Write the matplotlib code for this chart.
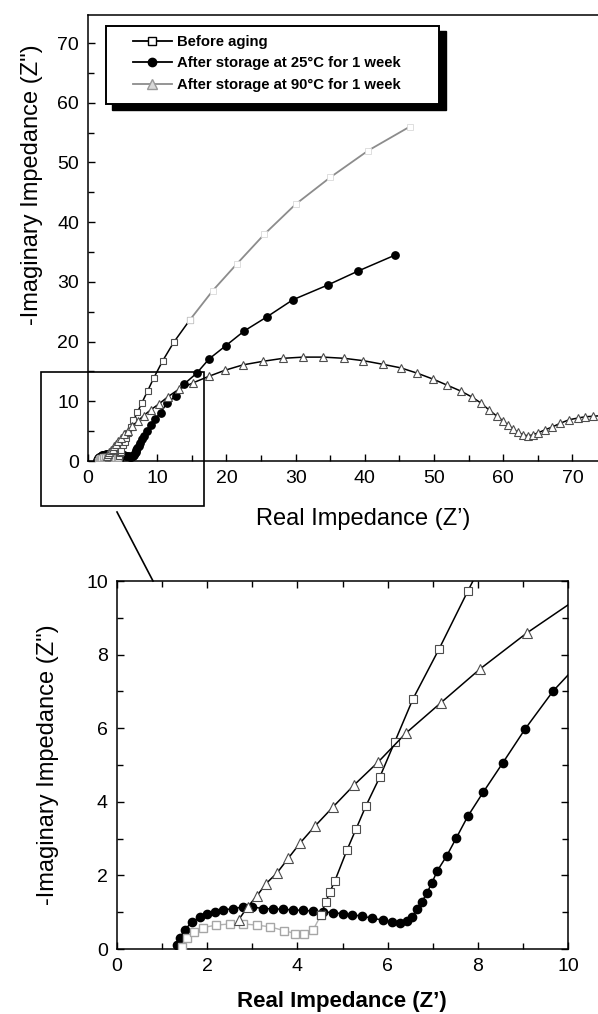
import matplotlib.pyplot as plt
from matplotlib.patches import Rectangle
from matplotlib.lines import Line2D
from matplotlib.ticker import MultipleLocator

plt.rcParams['font.family'] = ['Liberation Sans', 'DejaVu Sans']

# --- data (Z' , -Z'') ---
# before aging (squares)
sq_x = [1.45, 1.55, 1.7, 1.9, 2.2, 2.5, 2.8, 3.1, 3.4, 3.7, 3.95, 4.15, 4.35, 4.52,
        4.63, 4.72, 4.83, 5.10, 5.30, 5.52, 5.83, 6.16, 6.56, 7.14, 7.78, 8.6, 9.5,
        10.8, 12.4, 14.7, 18.0, 21.5, 25.5, 30.0, 35.0, 40.5, 46.5]
sq_y = [0.05, 0.3, 0.45, 0.58, 0.65, 0.68, 0.68, 0.65, 0.6, 0.5, 0.42, 0.4, 0.52, 0.92,
        1.28, 1.55, 1.85, 2.69, 3.26, 3.89, 4.68, 5.63, 6.79, 8.15, 9.73, 11.7, 13.9,
        16.8, 19.9, 23.6, 28.5, 33.0, 38.0, 43.0, 47.5, 52.0, 56.0]

# after 25 C, 1 week (filled circles)
ci_x = [1.33, 1.4, 1.5, 1.66, 1.84, 2.0, 2.17, 2.35, 2.58, 2.8, 3.0, 3.24, 3.46, 3.68,
        3.9, 4.12, 4.34, 4.56, 4.78, 5.0, 5.22, 5.44, 5.66, 5.9, 6.1, 6.27, 6.42, 6.54,
        6.65, 6.76, 6.87, 6.98, 7.1, 7.31, 7.52, 7.78, 8.12, 8.55, 9.05, 9.67, 10.5,
        11.4, 12.7, 13.9, 15.7, 17.5, 19.9, 22.6, 25.8, 29.6, 34.7, 39.0, 44.4]
ci_y = [0.1, 0.3, 0.52, 0.73, 0.87, 0.95, 1.0, 1.06, 1.1, 1.14, 1.14, 1.1, 1.09, 1.08,
        1.06, 1.05, 1.03, 1.01, 0.99, 0.96, 0.93, 0.89, 0.84, 0.78, 0.73, 0.71, 0.76, 0.87,
        1.08, 1.28, 1.52, 1.79, 2.12, 2.53, 3.01, 3.61, 4.26, 5.05, 5.98, 7.01, 8.1,
        9.7, 10.9, 12.9, 14.7, 17.1, 19.3, 21.8, 24.1, 27.0, 29.5, 31.8, 34.5]

# after 90 C, 1 week (open triangles)
tr_x = [2.7, 2.9, 3.1, 3.3, 3.55, 3.8, 4.06, 4.39, 4.79, 5.26, 5.79, 6.41, 7.18, 8.05,
        9.09, 10.3, 11.6, 13.1, 15.2, 17.5, 19.8, 22.4, 25.3, 28.2, 31.1, 34.0, 37.0,
        39.8, 42.6, 45.2, 47.6, 49.9, 51.9, 53.9, 55.5, 56.8, 58.0, 59.1, 60.0, 60.7,
        61.4, 62.1, 62.9, 63.6, 64.3, 65.0, 66.0, 67.1, 68.2, 69.5, 70.8, 71.8, 73.0,
        74.3, 75.6]
tr_y = [0.8, 1.15, 1.44, 1.77, 2.07, 2.47, 2.88, 3.34, 3.86, 4.46, 5.08, 5.87, 6.69, 7.61,
        8.59, 9.6, 10.8, 12.0, 13.1, 14.2, 15.2, 16.1, 16.7, 17.2, 17.4, 17.4, 17.2,
        16.8, 16.2, 15.6, 14.7, 13.7, 12.7, 11.7, 10.7, 9.7, 8.5, 7.5, 6.7, 6.0,
        5.4, 4.8, 4.4, 4.2, 4.4, 4.7, 5.2, 5.7, 6.3, 6.9, 7.2, 7.4, 7.5,
        7.6, 7.7]

labels = ['Before aging', 'After storage at 25°C for 1 week', 'After storage at 90°C for 1 week']
top_xticks = [0, 10, 20, 30, 40, 50, 60, 70]

W, H = 598, 1014
fig = plt.figure(figsize=(W / 100, H / 100), dpi=100)


def fx(px):
    return px / W


def fy(py):
    return 1 - py / H


gray_end = 14     # faint first arc of the "before aging" curve
fade_start = 29   # washed-out upper part in the scan


def draw(ax, s):
    ax.plot(ci_x, ci_y, '-', color='k', lw=1.1, marker='o', ms=4.6 * s,
            mfc='k', mec='k', zorder=2)
    ax.plot(sq_x[:gray_end], sq_y[:gray_end], '-', color='0.7', lw=1.0, marker='s',
            ms=4 * s, mfc='white', mec='0.65', zorder=3)
    ax.plot(sq_x[gray_end - 1:fade_start + 1], sq_y[gray_end - 1:fade_start + 1], '-',
            color='k', lw=1.1, marker='s', ms=4 * s, mfc='white', mec='0.3', mew=0.8, zorder=3)
    ax.plot(sq_x[fade_start:], sq_y[fade_start:], '-', color='0.55', lw=1.3, marker='s',
            ms=4 * s, mfc='white', mec='0.85', mew=0.6, zorder=3)
    ax.plot(tr_x, tr_y, '-', color='k', lw=1.1, marker='^', ms=5 * s,
            mfc='white', mec='0.3', mew=0.8, zorder=4)


def style(ax, fs=14):
    ax.tick_params(which='both', direction='in', width=1.0, labelsize=fs, pad=6.5)
    ax.tick_params(which='major', length=5)
    ax.tick_params(which='minor', length=4)
    for sp in ax.spines.values():
        sp.set_linewidth(1.1)


# ---- top panel (full range, cut at right edge) ----
ax1 = fig.add_axes([fx(88), fy(461), 553.6 / W, 446 / H])
draw(ax1, 1.15)
ax1.set_xlim(0, 80)
ax1.set_ylim(0, 74.7)
ax1.set_xticks(top_xticks)
ax1.xaxis.set_minor_locator(MultipleLocator(5))
ax1.yaxis.set_major_locator(MultipleLocator(10))
ax1.yaxis.set_minor_locator(MultipleLocator(5))
style(ax1)
ax1.spines['right'].set_visible(False)

# ---- bottom panel (zoom) ----
ax2 = fig.add_axes([fx(117), fy(949), 451 / W, 368 / H])
draw(ax2, 1.3)
ax2.set_xlim(0, 10)
ax2.set_ylim(0, 10)
ax2.xaxis.set_major_locator(MultipleLocator(2))
ax2.xaxis.set_minor_locator(MultipleLocator(1))
ax2.yaxis.set_major_locator(MultipleLocator(2))
ax2.yaxis.set_minor_locator(MultipleLocator(1))
style(ax2)
ax2.tick_params(which='both', top=True, right=True)

# axis titles
fig.text(fx(32), fy(185), '-Imaginary Impedance (Z")', rotation=90,
         ha='center', va='center', fontsize=17)
fig.text(fx(363), fy(519), 'Real Impedance (Z’)', ha='center', va='center', fontsize=17)
fig.text(fx(48), fy(765), '-Imaginary Impedance (Z")', rotation=90,
         ha='center', va='center', fontsize=17)
fig.text(fx(342), fy(1001), 'Real Impedance (Z’)', ha='center', va='center',
         fontsize=16, fontweight='bold')

# zoom box and connector
fig.add_artist(Rectangle((fx(41), fy(506)), (204 - 41) / W, (506 - 372) / H,
                         fill=False, ec='k', lw=1.2, transform=fig.transFigure, zorder=6))
fig.add_artist(Line2D([fx(117), fx(153)], [fy(512), fy(581)], color='k', lw=1.2,
                      transform=fig.transFigure, zorder=6))

# legend frame with hard black shadow
fig.add_artist(Rectangle((fx(112), fy(110)), (446 - 112) / W, (110 - 31) / H,
                         fc='k', ec='k', transform=fig.transFigure, zorder=7))
fig.add_artist(Rectangle((fx(106), fy(104)), (439 - 106) / W, (104 - 26) / H,
                         fc='white', ec='k', lw=1.4, transform=fig.transFigure, zorder=8))

handles = [
    Line2D([], [], color='k', lw=1.3, marker='s', ms=5.5, mfc='white', mec='k'),
    Line2D([], [], color='k', lw=1.3, marker='o', ms=6, mfc='k', mec='k'),
    Line2D([], [], color='0.55', lw=1.3, marker='^', ms=6.5, mfc='0.85', mec='0.6'),
]
leg = fig.legend(handles, labels, loc='upper left', bbox_to_anchor=(fx(133), fy(35)),
                 bbox_transform=fig.transFigure, frameon=False, borderpad=0,
                 borderaxespad=0, handlelength=2.6, handletextpad=0.35, labelspacing=0.5,
                 prop={'weight': 'bold', 'size': 10.7})
leg.set_zorder(9)

fig.savefig('out.png', dpi=100)
